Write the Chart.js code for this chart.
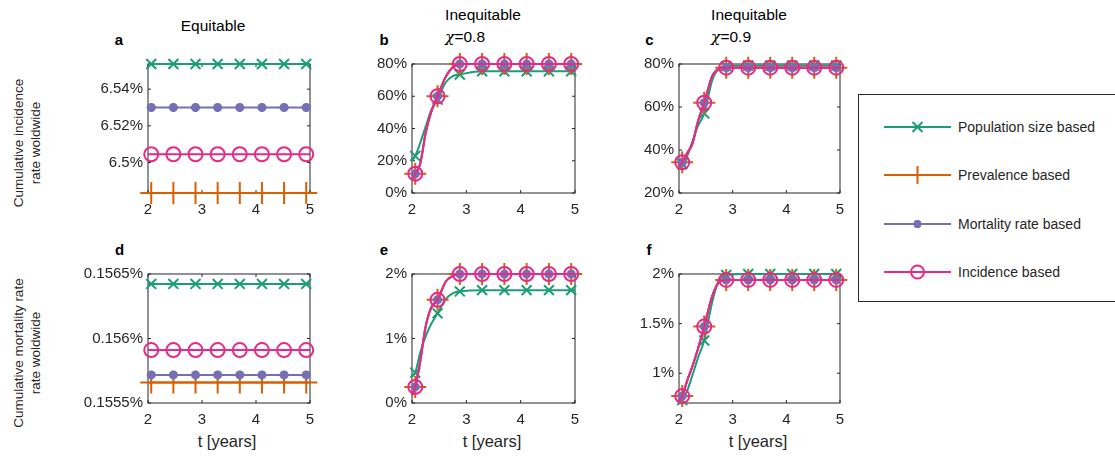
<!DOCTYPE html>
<html>
<head>
<meta charset="utf-8">
<script src="https://cdn.jsdelivr.net/npm/chart.js@4.4.1/dist/chart.umd.min.js"></script>
<style>
html,body{margin:0;padding:0;background:#fff;}
body{width:1115px;height:459px;position:relative;overflow:hidden;font-family:"Liberation Sans",Arial,sans-serif;color:#262626;}
canvas{position:absolute;}
.lbl{position:absolute;white-space:nowrap;line-height:1;transform:translate(-50%,-50%);}
.ttl{font-size:15.5px;color:#000;}
.let{font-size:15px;font-weight:bold;color:#000;}
.xl{font-size:16.5px;}
.yl{position:absolute;white-space:nowrap;line-height:1;font-size:13.5px;transform:translate(-50%,-50%) rotate(-90deg);}
.chi{font-family:"DejaVu Serif",serif;font-style:italic;}
#legend{position:absolute;left:858px;top:94px;width:280px;height:206px;border:1px solid #262626;background:#fff;}
.lt{position:absolute;left:99px;font-size:14px;line-height:1;transform:translateY(-50%);white-space:nowrap;}
#legend svg{position:absolute;left:22px;}
</style>
</head>
<body>
<div class="lbl ttl" style="left:213px;top:25.7px">Equitable</div>
<div class="lbl ttl" style="left:483px;top:14.7px">Inequitable</div>
<div class="lbl ttl" style="left:465px;top:37px"><span class="chi">χ</span>=0.8</div>
<div class="lbl ttl" style="left:749px;top:14.7px">Inequitable</div>
<div class="lbl ttl" style="left:731px;top:37px"><span class="chi">χ</span>=0.9</div>

<div class="lbl let" style="left:119px;top:38.6px">a</div>
<div class="lbl let" style="left:384px;top:38.6px">b</div>
<div class="lbl let" style="left:649.5px;top:38.6px">c</div>
<div class="lbl let" style="left:119.5px;top:248.6px">d</div>
<div class="lbl let" style="left:384px;top:248.6px">e</div>
<div class="lbl let" style="left:649px;top:248.6px">f</div>

<div class="yl" style="left:18.5px;top:143px">Cumulative incidence</div>
<div class="yl" style="left:35.5px;top:143px">rate woldwide</div>
<div class="yl" style="left:18.5px;top:353px">Cumulative mortality rate</div>
<div class="yl" style="left:35.5px;top:353px">rate woldwide</div>

<div class="lbl xl" style="left:227px;top:441px">t [years]</div>
<div class="lbl xl" style="left:492px;top:441px">t [years]</div>
<div class="lbl xl" style="left:758px;top:441px">t [years]</div>

<div id="legend"></div>

<script>
// time points (years); markers sit on MARK_T
const T_FLAT = [2, 2.06, 2.47, 2.88, 3.29, 3.7, 4.11, 4.52, 4.93, 5];
const T_RISE = [2, 2.06, 2.15, 2.25, 2.35, 2.47, 2.62, 2.75, 2.88, 3.29, 3.7, 4.11, 4.52, 4.93, 5];
const MARK_T = [2.06, 2.47, 2.88, 3.29, 3.7, 4.11, 4.52, 4.93];
const X_TICKS = [2, 3, 4, 5];

// a: incidence, equitable (%)
const A_POP  = [6.5537, 6.5537, 6.5537, 6.5537, 6.5537, 6.5537, 6.5537, 6.5537, 6.5537, 6.5537];
const A_PREV = [6.4834, 6.4834, 6.4834, 6.4834, 6.4834, 6.4834, 6.4834, 6.4834, 6.4834, 6.4834];
const A_MORT = [6.530, 6.530, 6.530, 6.530, 6.530, 6.530, 6.530, 6.530, 6.530, 6.530];
const A_INC  = [6.5045, 6.5045, 6.5045, 6.5045, 6.5045, 6.5045, 6.5045, 6.5045, 6.5045, 6.5045];
const A_YLIM = [6.4834, 6.5537];
const A_YTICKS = [6.5, 6.52, 6.54];

// b: incidence, chi=0.8
const B_POP  = [19.5, 23, 31, 41, 51, 58, 68.5, 72.5, 73.5, 75.5, 75.5, 75.5, 75.5, 75.5, 75.5];
const B_INC  = [8, 12, 18, 37, 50, 60, 72, 78, 80, 80, 80, 80, 80, 80, 80];
const B_PREV = [8, 12, 18, 37, 50, 60, 72, 78, 80, 80, 80, 80, 80, 80, 80];
const B_MORT = [8, 12, 18, 37, 50, 60, 72, 78, 80, 80, 80, 80, 80, 80, 80];
const B_YLIM = [0, 80];
const B_YTICKS = [0, 20, 40, 60, 80];

// c: incidence, chi=0.9
const C_POP  = [31, 33.5, 37, 44, 51, 57, 72.5, 78, 79, 79.3, 79.3, 79.3, 79.3, 79.3, 79.3];
const C_INC  = [32.5, 34.3, 38.5, 43, 53, 62, 74.5, 77.8, 78.3, 78.3, 78.3, 78.3, 78.3, 78.3, 78.3];
const C_PREV = [32.5, 34.3, 38.5, 43, 53, 62, 74.5, 77.8, 78.3, 78.3, 78.3, 78.3, 78.3, 78.3, 78.3];
const C_MORT = [32.5, 34.3, 38.5, 43, 53, 62, 74.5, 77.8, 78.3, 78.3, 78.3, 78.3, 78.3, 78.3, 78.3];
const C_YLIM = [20, 80];
const C_YTICKS = [20, 40, 60, 80];

// d: mortality, equitable (%)
const D_POP  = [0.156423, 0.156423, 0.156423, 0.156423, 0.156423, 0.156423, 0.156423, 0.156423, 0.156423, 0.156423];
const D_PREV = [0.155658, 0.155658, 0.155658, 0.155658, 0.155658, 0.155658, 0.155658, 0.155658, 0.155658, 0.155658];
const D_MORT = [0.155718, 0.155718, 0.155718, 0.155718, 0.155718, 0.155718, 0.155718, 0.155718, 0.155718, 0.155718];
const D_INC  = [0.15591, 0.15591, 0.15591, 0.15591, 0.15591, 0.15591, 0.15591, 0.15591, 0.15591, 0.15591];
const D_YLIM = [0.1555, 0.1565];
const D_YTICKS = [0.1555, 0.156, 0.1565];

// e: mortality, chi=0.8
const E_POP  = [0.41, 0.47, 0.78, 1.03, 1.22, 1.39, 1.61, 1.70, 1.73, 1.75, 1.75, 1.75, 1.75, 1.75, 1.75];
const E_INC  = [0.12, 0.25, 0.64, 1.18, 1.47, 1.6, 1.88, 1.97, 2.0, 2.0, 2.0, 2.0, 2.0, 2.0, 2.0];
const E_PREV = [0.12, 0.25, 0.64, 1.18, 1.47, 1.6, 1.88, 1.97, 2.0, 2.0, 2.0, 2.0, 2.0, 2.0, 2.0];
const E_MORT = [0.12, 0.25, 0.64, 1.18, 1.47, 1.6, 1.88, 1.97, 2.0, 2.0, 2.0, 2.0, 2.0, 2.0, 2.0];
const E_YLIM = [0, 2];
const E_YTICKS = [0, 1, 2];

// f: mortality, chi=0.9
const F_POP  = [0.70, 0.73, 0.82, 0.98, 1.15, 1.33, 1.72, 1.95, 1.99, 2.0, 2.0, 2.0, 2.0, 2.0, 2.0];
const F_INC  = [0.72, 0.77, 0.92, 1.07, 1.24, 1.47, 1.78, 1.92, 1.94, 1.94, 1.94, 1.94, 1.94, 1.94, 1.94];
const F_PREV = [0.72, 0.77, 0.92, 1.07, 1.24, 1.47, 1.78, 1.92, 1.94, 1.94, 1.94, 1.94, 1.94, 1.94, 1.94];
const F_MORT = [0.72, 0.77, 0.92, 1.07, 1.24, 1.47, 1.78, 1.92, 1.94, 1.94, 1.94, 1.94, 1.94, 1.94, 1.94];
const F_YLIM = [0.7, 2];
const F_YTICKS = [1, 1.5, 2];

const SERIES = ['Population size based', 'Prevalence based', 'Mortality rate based', 'Incidence based'];
const STYLES = [
  {color:'#1b9e77', ps:'crossRot', r:7,   pw:2, order:4},
  {color:'#d95f02', ps:'cross',    r:11,  pw:2, order:3},
  {color:'#7570b3', ps:'star',     r:4.5, pw:3, order:2},
  {color:'#e7298a', ps:'circle',   r:7,   pw:2, order:1},
];

const PANELS = [
  {box:[148,64,310,193], t:T_FLAT, ys:[A_POP,A_PREV,A_MORT,A_INC], ylim:A_YLIM, yt:A_YTICKS},
  {box:[412,64,575,193], t:T_RISE, ys:[B_POP,B_PREV,B_MORT,B_INC], ylim:B_YLIM, yt:B_YTICKS},
  {box:[679,64,840,193], t:T_RISE, ys:[C_POP,C_PREV,C_MORT,C_INC], ylim:C_YLIM, yt:C_YTICKS},
  {box:[148,274,310,403], t:T_FLAT, ys:[D_POP,D_PREV,D_MORT,D_INC], ylim:D_YLIM, yt:D_YTICKS},
  {box:[412,274,575,403], t:T_RISE, ys:[E_POP,E_PREV,E_MORT,E_INC], ylim:E_YLIM, yt:E_YTICKS},
  {box:[679,274,840,403], t:T_RISE, ys:[F_POP,F_PREV,F_MORT,F_INC], ylim:F_YLIM, yt:F_YTICKS},
];

const FONT = {family:'"Liberation Sans", Arial, sans-serif', size:15};
const AX = '#262626';
const PADL = 75, PADT = 25, PADR = 25, PADB = 30;
const fmt = v => parseFloat(v.toFixed(4)) + '%';

// matlab style box with inward ticks
const boxPlugin = {
  id:'box',
  beforeDatasetsDraw(chart){
    const {ctx, chartArea:a, scales:{x, y}} = chart;
    ctx.save();
    ctx.strokeStyle = AX; ctx.lineWidth = 1;
    ctx.strokeRect(a.left, a.top, a.right - a.left, a.bottom - a.top);
    ctx.beginPath();
    for (const t of x.ticks){
      const px = x.getPixelForValue(t.value);
      ctx.moveTo(px, a.bottom); ctx.lineTo(px, a.bottom - 3);
      ctx.moveTo(px, a.top); ctx.lineTo(px, a.top + 3);
    }
    for (const t of y.ticks){
      const py = y.getPixelForValue(t.value);
      ctx.moveTo(a.left, py); ctx.lineTo(a.left + 3, py);
      ctx.moveTo(a.right, py); ctx.lineTo(a.right - 3, py);
    }
    ctx.stroke();
    ctx.restore();
  }
};

function makePanel(p){
  const [L, T, R, B] = p.box;
  const cv = document.createElement('canvas');
  cv.width = R - L + PADL + PADR; cv.height = B - T + PADT + PADB;
  cv.style.left = (L - PADL) + 'px'; cv.style.top = (T - PADT) + 'px';
  document.body.insertBefore(cv, document.getElementById('legend'));
  const datasets = p.ys.map((vals, i) => {
    const s = STYLES[i];
    return {
      label: SERIES[i],
      data: p.t.map((t, k) => ({x:t, y:vals[k]})),
      borderColor: s.color, borderWidth: 2,
      backgroundColor: s.color,
      pointStyle: s.ps,
      pointRadius: c => MARK_T.includes(c.raw.x) ? s.r : 0,
      pointBorderWidth: s.pw,
      pointBorderColor: s.color,
      pointBackgroundColor: s.ps === 'circle' ? 'rgba(0,0,0,0)' : s.color,
      cubicInterpolationMode: 'monotone',
      order: s.order,
      clip: false
    };
  });
  new Chart(cv, {
    type:'line',
    data:{datasets},
    options:{
      responsive:false, animation:false, events:[],
      layout:{autoPadding:false, padding:{left:0, top:PADT, right:PADR, bottom:0}},
      plugins:{legend:{display:false}, tooltip:{enabled:false}},
      scales:{
        x:{type:'linear', min:2, max:5,
           afterBuildTicks: s => { s.ticks = X_TICKS.map(v => ({value:v})); },
           afterFit: s => { s.height = PADB; },
           grid:{display:false, drawTicks:false}, border:{display:false},
           ticks:{padding:8, font:FONT, color:AX, maxRotation:0, autoSkip:false, callback: v => String(v)}},
        y:{type:'linear', min:p.ylim[0], max:p.ylim[1],
           afterBuildTicks: s => { s.ticks = p.yt.map(v => ({value:v})); },
           afterFit: s => { s.width = PADL; },
           grid:{display:false, drawTicks:false}, border:{display:false},
           ticks:{padding:5, font:FONT, color:AX, autoSkip:false, callback: v => fmt(v)}}
      }
    },
    plugins:[boxPlugin]
  });
}
PANELS.forEach(makePanel);

// legend
const LEG_Y = [32, 80, 128.5, 177];
const markerSvg = (s) => {
  const c = s.color;
  if (s.ps === 'crossRot') return `<path d="M-5,-5L5,5M-5,5L5,-5" stroke="${c}" stroke-width="2" fill="none"/>`;
  if (s.ps === 'cross') return `<path d="M-9,0L9,0M0,-9L0,9" stroke="${c}" stroke-width="2" fill="none"/>`;
  if (s.ps === 'star') return `<path d="M-4,0L4,0M0,-4L0,4M-3,-3L3,3M-3,3L3,-3" stroke="${c}" stroke-width="2.5" fill="none"/>`;
  return `<circle r="6.5" stroke="${c}" stroke-width="2" fill="none"/>`;
};
const leg = document.getElementById('legend');
leg.innerHTML = SERIES.map((name, i) => {
  const s = STYLES[i], y = LEG_Y[i];
  return `<svg width="74" height="26" style="top:${y - 13}px">
      <g transform="translate(0,13)"><line x1="3" y1="0" x2="70" y2="0" stroke="${s.color}" stroke-width="2"/></g>
      <g transform="translate(36.5,13)">${markerSvg(s)}</g></svg>
    <div class="lt" style="top:${y}px">${name}</div>`;
}).join('');
</script>
</body>
</html>
